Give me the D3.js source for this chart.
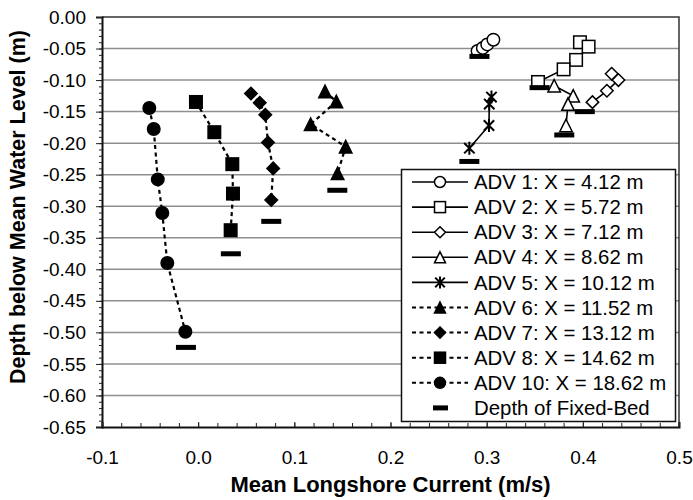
<!DOCTYPE html>
<html>
<head>
<meta charset="utf-8">
<script src="https://cdn.jsdelivr.net/npm/d3@7"></script>
<style>
  body{margin:0;background:#fff;}
  svg{display:block;font-family:"Liberation Sans",Arial,sans-serif;}
</style>
</head>
<body>
<script>
// series data (current m/s, depth m)
var legendLabels = ['ADV 1: X = 4.12 m','ADV 2: X = 5.72 m','ADV 3: X = 7.12 m','ADV 4: X = 8.62 m',
  'ADV 5: X = 10.12 m','ADV 6: X = 11.52 m','ADV 7: X = 13.12 m','ADV 8: X = 14.62 m',
  'ADV 10: X = 18.62 m','Depth of Fixed-Bed'];
var adv1Current = [0.2905,0.296,0.3006,0.307];
var adv1Depth   = [-0.054,-0.049,-0.0434,-0.036];
var adv2Current = [0.397,0.406,0.393,0.380,0.3534];
var adv2Depth   = [-0.040,-0.047,-0.068,-0.083,-0.103];
var adv3Current = [0.430,0.437,0.425,0.410];
var adv3Depth   = [-0.090,-0.100,-0.117,-0.135];
var adv4Current = [0.3702,0.390,0.3846,0.3825];
var adv4Depth   = [-0.109,-0.125,-0.138,-0.172];
var adv5Current = [0.305,0.3027,0.3024,0.282];
var adv5Depth   = [-0.127,-0.138,-0.172,-0.208];
var adv6Current = [0.1319,0.1437,0.117,0.1534,0.145];
var adv6Depth   = [-0.118,-0.134,-0.170,-0.2056,-0.2478];
var adv7Current = [0.0549,0.064,0.0698,0.0726,0.078,0.076];
var adv7Depth   = [-0.1213,-0.136,-0.155,-0.199,-0.240,-0.290];
var adv8Current = [-0.0023,0.0168,0.0355,0.0362,0.0338];
var adv8Depth   = [-0.1347,-0.1826,-0.2333,-0.280,-0.338];
var adv10Current = [-0.0508,-0.0462,-0.042,-0.0373,-0.0321,-0.0133];
var adv10Depth   = [-0.1443,-0.1776,-0.2575,-0.3107,-0.390,-0.4989];
// fixed-bed depth under each ADV (1,2,3,4,5,6,7,8,10)
var bedCurrent = [0.2925,0.355,0.402,0.3807,0.282,0.1447,0.076,0.034,-0.0127];
var bedDepth   = [-0.0625,-0.112,-0.150,-0.187,-0.229,-0.2747,-0.324,-0.3754,-0.5238];
var xTicks = [-0.1,0.0,0.1,0.2,0.3,0.4,0.5];
var yTicks = [0,-0.05,-0.10,-0.15,-0.20,-0.25,-0.30,-0.35,-0.40,-0.45,-0.50,-0.55,-0.60,-0.65];

var series = [
  {x:adv1Current, y:adv1Depth, shape:'circle', fill:false, dash:false},
  {x:adv2Current, y:adv2Depth, shape:'square', fill:false, dash:false},
  {x:adv3Current, y:adv3Depth, shape:'diamond', fill:false, dash:false},
  {x:adv4Current, y:adv4Depth, shape:'triangle', fill:false, dash:false},
  {x:adv5Current, y:adv5Depth, shape:'star', fill:false, dash:false},
  {x:adv6Current, y:adv6Depth, shape:'triangle', fill:true, dash:true},
  {x:adv7Current, y:adv7Depth, shape:'diamond', fill:true, dash:true},
  {x:adv8Current, y:adv8Depth, shape:'square', fill:true, dash:true},
  {x:adv10Current, y:adv10Depth, shape:'circle', fill:true, dash:true}
];

var W = 693, H = 500;
var pLeft = 102, pRight = 679, pTop = 17, pBottom = 427;
var svg = d3.select('body').append('svg').attr('width',W).attr('height',H);
var x = d3.scaleLinear().domain([-0.1,0.5]).range([pLeft,pRight]);
var y = d3.scaleLinear().domain([-0.65,0]).range([pBottom,pTop]);
function hyphen(f){ return function(d){ return d3.format(f)(d).replace('\u2212','-'); }; }

// gridlines
svg.append('g').selectAll('line').data(yTicks.filter(function(d){return d<0 && d>-0.65;}))
  .enter().append('line')
  .attr('x1',pLeft).attr('x2',pRight).attr('y1',function(d){return y(d);}).attr('y2',function(d){return y(d);})
  .attr('stroke','#8f8f8f').attr('stroke-width',1.5);

// frame top + right
svg.append('path').attr('d','M'+pLeft+','+pTop+'H'+pRight+'V'+pBottom)
  .attr('fill','none').attr('stroke','#333').attr('stroke-width',1.5);

// y axis: major + minor ticks outward
var yAxis = d3.axisLeft(y).tickValues(yTicks).tickSize(6).tickPadding(10)
  .tickFormat(hyphen('.2f'));
var gy = svg.append('g').attr('transform','translate('+pLeft+',0)').call(yAxis);
var yMinor = d3.range(0,66).map(function(i){return -i/100;});
svg.append('g').attr('transform','translate('+pLeft+',0)')
  .call(d3.axisLeft(y).tickValues(yMinor).tickSize(3).tickFormat(''))
  .select('.domain').remove();
gy.select('.domain').attr('stroke','#111').attr('stroke-width',2);

// x axis: ticks point up into the plot
var xAxis = d3.axisBottom(x).tickValues(xTicks).tickSize(-5).tickPadding(24)
  .tickFormat(hyphen('.1f'));
var gx = svg.append('g').attr('transform','translate(0,'+pBottom+')').call(xAxis);
var xMinor = d3.range(0,31).map(function(i){return -0.1+i*0.02;});
svg.append('g').attr('transform','translate(0,'+pBottom+')')
  .call(d3.axisBottom(x).tickValues(xMinor).tickSize(-4).tickFormat(''))
  .select('.domain').remove();
gx.select('.domain').attr('stroke','#111').attr('stroke-width',2);

svg.selectAll('.tick line').attr('stroke','#222').attr('stroke-width',1);
svg.selectAll('.tick text').attr('font-size','19px').attr('fill','#000')
  .attr('font-family','"Liberation Sans",Arial,sans-serif');

// axis titles
svg.append('text').attr('x',(pLeft+pRight)/2).attr('y',492).attr('text-anchor','middle')
  .attr('font-size','22px').attr('font-weight','bold').text('Mean Longshore Current (m/s)');
svg.append('text').attr('transform','translate(25,207) rotate(-90)').attr('text-anchor','middle')
  .attr('font-size','21.5px').attr('font-weight','bold').text('Depth below Mean Water Level (m)');

function marker(g,shape,fill,cx,cy,s){
  var st = fill ? '#000' : '#fff';
  var h = s/2;
  if(shape=='circle'){
    g.append('circle').attr('cx',cx).attr('cy',cy).attr('r',h).attr('fill',st).attr('stroke','#000').attr('stroke-width',1.5);
  } else if(shape=='square'){
    g.append('rect').attr('x',cx-h).attr('y',cy-h).attr('width',s).attr('height',s).attr('fill',st).attr('stroke','#000').attr('stroke-width',1.5);
  } else if(shape=='diamond'){
    g.append('path').attr('d','M'+cx+','+(cy-h)+'L'+(cx+h)+','+cy+'L'+cx+','+(cy+h)+'L'+(cx-h)+','+cy+'Z')
      .attr('fill',st).attr('stroke','#000').attr('stroke-width',1.5);
  } else if(shape=='triangle'){
    g.append('path').attr('d','M'+cx+','+(cy-h)+'L'+(cx+h)+','+(cy+h)+'L'+(cx-h)+','+(cy+h)+'Z')
      .attr('fill',st).attr('stroke','#000').attr('stroke-width',1.5);
  } else if(shape=='star'){
    var a = h*0.8;
    g.append('path').attr('d','M'+cx+','+(cy-h)+'V'+(cy+h)+'M'+(cx-a)+','+(cy-a)+'L'+(cx+a)+','+(cy+a)+'M'+(cx+a)+','+(cy-a)+'L'+(cx-a)+','+(cy+a))
      .attr('fill','none').attr('stroke','#000').attr('stroke-width',2);
  }
}

// series lines + markers
var plot = svg.append('g');
var line = d3.line().x(function(d){return x(d[0]);}).y(function(d){return y(d[1]);});
series.forEach(function(s){
  var pts = s.x.map(function(v,i){return [v,s.y[i]];});
  plot.append('path').attr('d',line(pts)).attr('fill','none').attr('stroke','#000')
    .attr('stroke-width',s.dash?2.2:1.6).attr('stroke-dasharray',s.dash?'4,3.5':null);
});
series.forEach(function(s){
  s.x.forEach(function(v,i){
    marker(plot,s.shape,s.fill,x(v),y(s.y[i]),s.shape=='star'?13:12.5);
  });
});
// fixed-bed bars
plot.selectAll('rect.bed').data(bedCurrent).enter().append('rect').attr('class','bed')
  .attr('x',function(d){return x(d)-10;}).attr('y',function(d,i){return y(bedDepth[i])-2.5;})
  .attr('width',20).attr('height',5).attr('fill','#000');

// legend
var lg = svg.append('g');
lg.append('rect').attr('x',401.5).attr('y',169.5).attr('width',274).attr('height',252)
  .attr('fill','#fff').attr('stroke','#111').attr('stroke-width',1.5);
legendLabels.forEach(function(t,i){
  var cy = 182 + i*25.1;
  if(i<9){
    var s = series[i];
    lg.append('line').attr('x1',412).attr('x2',468).attr('y1',cy).attr('y2',cy)
      .attr('stroke','#000').attr('stroke-width',s.dash?2:1.6).attr('stroke-dasharray',s.dash?'4,3.5':null);
    marker(lg,s.shape,s.fill,440,cy,s.shape=='star'?12:11);
  } else {
    lg.append('rect').attr('x',433).attr('y',cy-2.5).attr('width',15).attr('height',5).attr('fill','#000');
  }
  lg.append('text').attr('x',474).attr('y',cy).attr('dy','0.35em').attr('font-size','20.4px').text(t);
});
</script>
</body>
</html>
